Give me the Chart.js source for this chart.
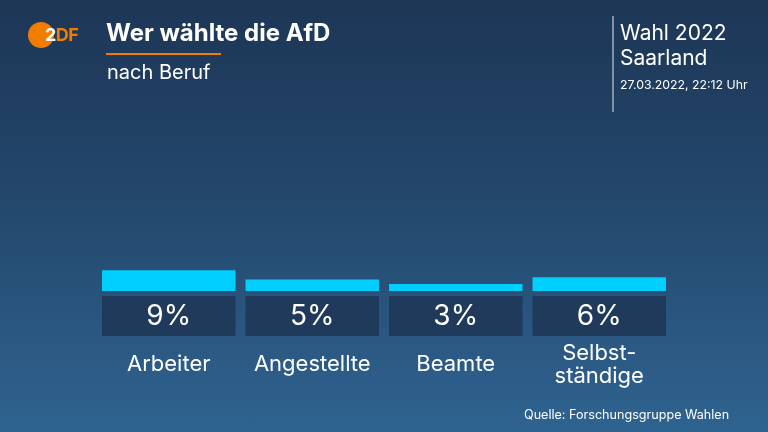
<!DOCTYPE html>
<html>
<head>
<meta charset="utf-8">
<script src="https://cdn.jsdelivr.net/npm/chart.js@4/dist/chart.umd.min.js"></script>
<style>
  html, body { margin: 0; padding: 0; }
  body {
    width: 768px; height: 432px; overflow: hidden; position: relative;
    background: linear-gradient(to bottom, #1d3656 0%, #23476b 45%, #2f6390 100%);
    font-family: Inter, "Open Sans", sans-serif; color: #fff;
  }
  #chart-box { position: absolute; left: 0; top: 0; width: 768px; height: 432px; }
  .t { position: absolute; white-space: nowrap; }
  #logo { position: absolute; left: 28px; top: 22px; width: 26px; height: 26px; border-radius: 50%; background: #f07d00; }
  #logo-txt { left: 45px; top: 22px; font-size: 18px; font-weight: 700; letter-spacing: -0.5px; line-height: 26px; }
  #title { left: 106px; top: 18px; font-size: 24px; font-weight: 700; }
  #rule { position: absolute; left: 106px; top: 53px; width: 115px; height: 2px; background: #f07d00; }
  #subtitle { left: 107px; top: 60px; font-size: 20px; }
  #vline { position: absolute; left: 612px; top: 16px; width: 2px; height: 96px; background: #7f92a8; }
  #wahl { left: 620px; top: 20px; font-size: 21px; line-height: 25px; }
  #date { left: 620px; top: 77px; font-size: 12.3px; }
  #source { left: 524px; top: 407px; font-size: 12.6px; }
</style>
</head>
<body>
<div id="chart-box"><canvas id="chart" width="768" height="432"></canvas></div>
<div id="logo"></div>
<div class="t" id="logo-txt"><span style="color:#fff">2</span><span style="color:#f07d00">DF</span></div>
<div class="t" id="title">Wer wählte die AfD</div>
<div id="rule"></div>
<div class="t" id="subtitle">nach Beruf</div>
<div id="vline"></div>
<div class="t" id="wahl">Wahl 2022<br>Saarland</div>
<div class="t" id="date">27.03.2022, 22:12 Uhr</div>
<div class="t" id="source">Quelle: Forschungsgruppe Wahlen</div>
<script>
const categories = [['Arbeiter'], ['Angestellte'], ['Beamte'], ['Selbst-', 'ständige']]
const values = [9, 5, 3, 6]
const value_labels = ['9%', '5%', '3%', '6%']

// draws the dark value boxes and the category names under each bar
const labelBoxes = {
  id: 'labelBoxes',
  afterDatasetsDraw(chart) {
    const ctx = chart.ctx
    const meta = chart.getDatasetMeta(0)
    ctx.save()
    meta.data.forEach((bar, i) => {
      const w = bar.width
      const left = bar.x - w / 2
      ctx.fillStyle = '#1f3a5a'
      ctx.fillRect(left, 296, w, 40)
      ctx.fillStyle = '#ffffff'
      ctx.textAlign = 'center'
      ctx.textBaseline = 'middle'
      ctx.font = '28px Inter, "Open Sans", sans-serif'
      ctx.fillText(value_labels[i], bar.x, 317)
      ctx.font = '22px Inter, "Open Sans", sans-serif'
      const lines = categories[i]
      if (lines.length == 1) {
        ctx.fillText(lines[0], bar.x, 364)
      } else {
        ctx.fillText(lines[0], bar.x, 353)
        ctx.fillText(lines[1], bar.x, 376)
      }
    })
    ctx.restore()
  }
}

new Chart(document.getElementById('chart'), {
  type: 'bar',
  data: {
    labels: categories.map(c => c.join('')),
    datasets: [{
      data: values,
      backgroundColor: '#00cfff',
      borderWidth: 0,
      barPercentage: 0.93,
      categoryPercentage: 1.0
    }]
  },
  options: {
    responsive: false,
    animation: false,
    layout: { padding: { left: 97, right: 97, top: 245, bottom: 141 } },
    scales: {
      x: { display: false },
      y: { display: false, min: 0, max: 20 }
    },
    plugins: {
      legend: { display: false },
      tooltip: { enabled: false }
    }
  },
  plugins: [labelBoxes]
})
</script>
</body>
</html>
